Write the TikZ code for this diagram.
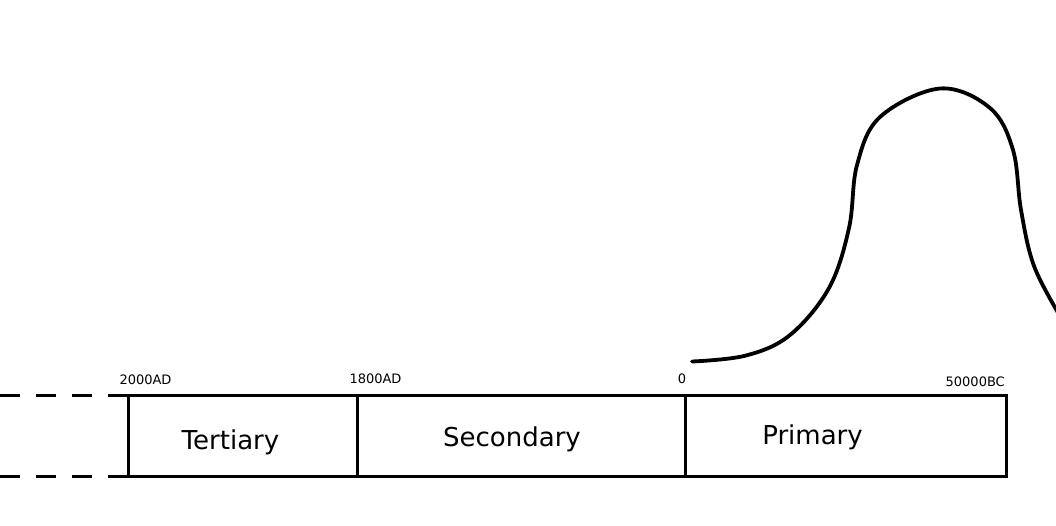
\documentclass[tikz,border=0pt]{standalone}
\usepackage{fontspec}
\setmainfont{DejaVu Sans}
\usepackage{tikz}
\usetikzlibrary{
  calc,
  positioning
}
\definecolor{FigText}{HTML}{000000}

\begin{document}
\begin{tikzpicture}[
x=1pt, y=-1pt,
era/.style={
draw=black,
line width=3pt,
inner sep=0pt,
outer sep=0pt,
minimum height=81pt
},
eraname/.style={
font=\fontsize{26}{30}\selectfont,
anchor=base,
inner sep=0pt
},
date/.style={
font=\fontsize{13}{15}\selectfont,
inner sep=0pt
},
dashline/.style={line width=3pt, dash pattern=on 20pt off 16pt},
every node/.style={text=FigText}
]
\useasboundingbox (0,0) rectangle (1056,525);
\clip (0,0) rectangle (1056,525);

% Era boxes
\node[era, minimum width=229pt] (tertiary) at (242.5,435.5) {};
\node[era, minimum width=328pt] (secondary) at (521,435.5) {};
\node[era, minimum width=321pt] (primary) at (845.5,435.5) {};

% Era names
\node[eraname] (tertiarytext) at ($(tertiary.south)+(-12,-27)$) {Tertiary};
\node[eraname] (secondarytext) at ($(secondary.south)+(-9,-30)$) {Secondary};
\node[eraname] (primarytext) at ($(primary.south)+(-33,-32)$) {Primary};

% Dates
\node[date] (d2000) at ($(tertiary.north west)+(17.5,-15)$) {2000AD};
\node[date] (d1800) at ($(secondary.north west)+(18.5,-16)$) {1800AD};
\node[date] (dzero) at ($(primary.north west)+(-3,-16)$) {0};
\node[date, anchor=east] (d50000) at ($(primary.north east)+(-1,-13)$) {50000BC};

% Dashed continuation
\coordinate (dashtop) at (0,395);
\coordinate (dashbot) at (0,476);
\draw[dashline] (dashtop) -- (tertiary.north west);
\draw[dashline] (dashbot) -- (tertiary.south west);

% Curve
\draw[line width=3.8pt, line cap=round, line join=round] plot[smooth, tension=0.6] coordinates {
(692,361.5) (746,355.5) (790,335) (829,288) (849,228) (857,165)
(880,117) (940,88.5) (990,108) (1013,150) (1021,210) (1034,266) (1060,316)
};

\end{tikzpicture}
\end{document}
